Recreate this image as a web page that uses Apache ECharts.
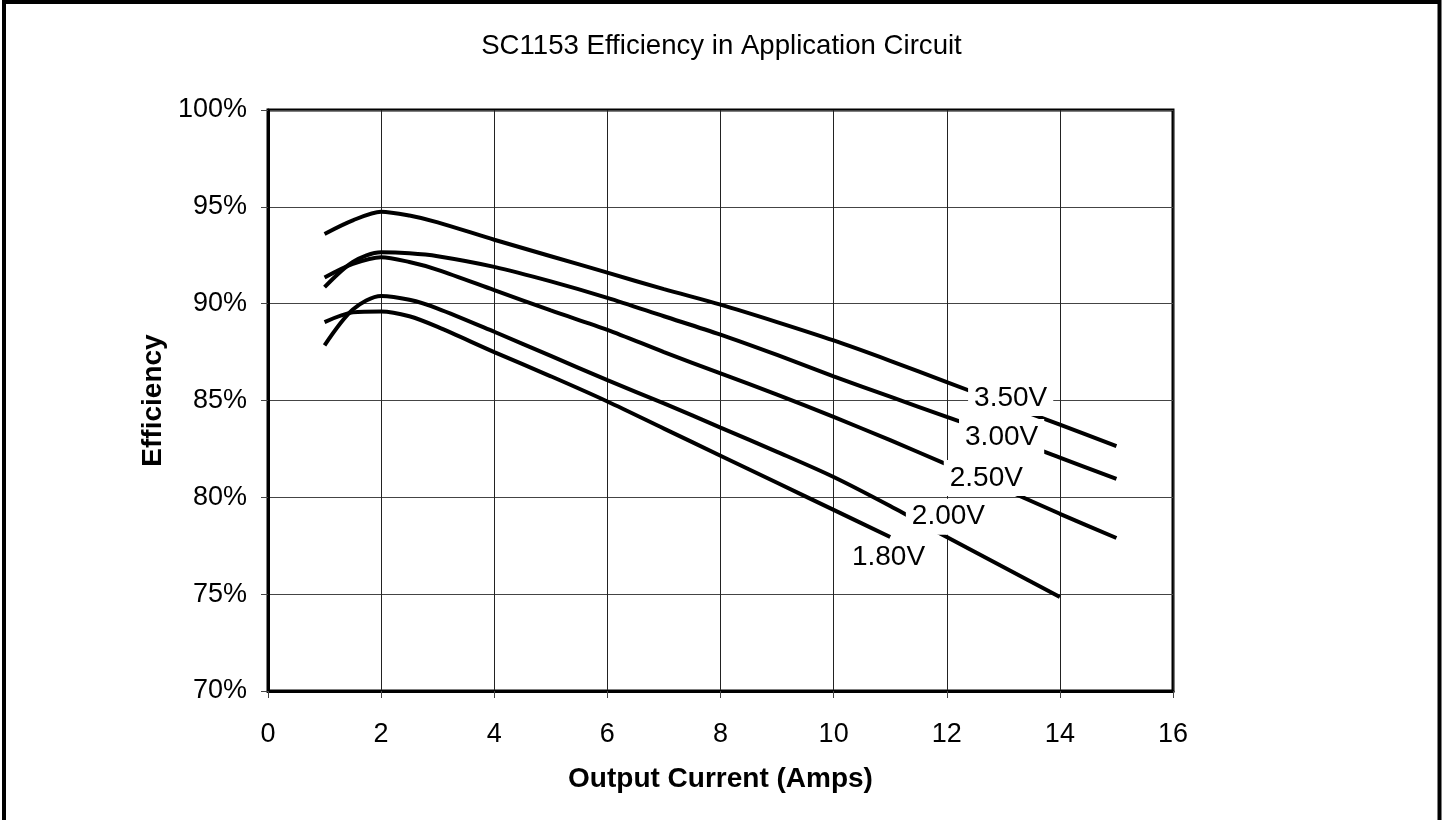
<!DOCTYPE html>
<html>
<head>
<meta charset="utf-8">
<script src="https://cdn.jsdelivr.net/npm/echarts@6/dist/echarts.min.js"></script>
<style>
  html, body { margin: 0; padding: 0; background: #fff; }
  #chart { width: 1443px; height: 820px; }
</style>
</head>
<body>
<div id="chart"></div>
<script>
// Output current (A)
const currents = [1, 1.5, 2, 2.5, 3, 4, 5, 6, 7, 8, 9, 10, 11, 12, 13, 14, 15];
// Efficiency (%) per output voltage
const eff350 = [93.6, 94.3, 94.75, 94.55, 94.2, 93.3, 92.45, 91.6, 90.75, 89.95, 89.05, 88.1, 87.05, 85.95, 84.85, 83.75, 82.65];
const eff300 = [90.85, 92.15, 92.65, 92.6, 92.45, 91.9, 91.15, 90.3, 89.35, 88.4, 87.35, 86.25, 85.2, 84.15, 83.15, 82.05, 80.95];
const eff250 = [91.35, 92.05, 92.4, 92.15, 91.75, 90.7, 89.65, 88.65, 87.5, 86.4, 85.3, 84.15, 82.95, 81.7, 80.45, 79.15, 77.9];
const eff200 = [87.85, 89.7, 90.4, 90.2, 89.75, 88.55, 87.3, 86.05, 84.85, 83.6, 82.35, 81.05, 79.55, 77.95, 76.4, 74.85];
const eff180 = [89.05, 89.55, 89.6, 89.35, 88.8, 87.5, 86.25, 84.95, 83.55, 82.15, 80.75, 79.35, 77.95];
const seriesNames = ['3.50V', '3.00V', '2.50V', '2.00V', '1.80V'];
// In-chart label anchors
const labelX = [13.13, 12.97, 12.7, 12.03, 10.97];
const labelY = [85.13, 83.12, 81.0, 79.0, 76.9];
// Axis ticks
const xTicks = { min: 0, max: 16, interval: 2 };
const yTicks = { min: 70, max: 100, interval: 5 };

const FONT = '"Liberation Sans", Arial, sans-serif';
const allEff = [eff350, eff300, eff250, eff200, eff180];

const lineSeries = allEff.map((arr, i) => ({
  name: seriesNames[i],
  type: 'line',
  smooth: 0.3,
  symbol: 'none',
  lineStyle: { color: '#000', width: 4 },
  data: arr.map((v, j) => [currents[j], v]),
  z: 3
}));

const labelSeries = {
  type: 'scatter',
  symbolSize: 1,
  itemStyle: { color: '#fff', opacity: 1 },
  silent: true,
  z: 10,
  label: {
    show: true,
    position: 'inside',
    formatter: '{b}',
    fontFamily: FONT,
    fontSize: 28,
    color: '#000',
    opacity: 1,
    backgroundColor: '#fff',
    padding: [4, 6]
  },
  data: seriesNames.map((n, i) => ({ name: n, value: [labelX[i], labelY[i]] }))
};

const chart = echarts.init(document.getElementById('chart'));
chart.setOption({
  animation: false,
  backgroundColor: '#fff',
  title: {
    text: 'SC1153 Efficiency in Application Circuit',
    left: 'center',
    top: 27,
    textStyle: { fontFamily: FONT, fontSize: 27.6, fontWeight: 'normal', color: '#000' }
  },
  graphic: [{
    type: 'rect',
    shape: { x: 4, y: 2, width: 1435.5, height: 900 },
    style: { fill: 'none', stroke: '#000', lineWidth: 4 },
    silent: true
  }],
  grid: {
    left: 268, right: 270, top: 110, bottom: 129,
    show: true, borderColor: '#000', borderWidth: 3, backgroundColor: 'transparent'
  },
  xAxis: {
    type: 'value',
    min: xTicks.min, max: xTicks.max, interval: xTicks.interval,
    name: 'Output Current (Amps)',
    nameLocation: 'middle',
    nameGap: 74,
    nameTextStyle: { fontFamily: FONT, fontSize: 28, fontWeight: 'bold', color: '#000' },
    axisLine: { show: true, onZero: false, lineStyle: { color: '#000', width: 3 } },
    axisTick: { show: true, inside: false, length: 7, lineStyle: { color: '#444', width: 1 } },
    axisLabel: { margin: 30, fontFamily: FONT, fontSize: 27, color: '#000' },
    splitLine: { show: true, lineStyle: { color: '#222', width: 1 } }
  },
  yAxis: {
    type: 'value',
    min: yTicks.min, max: yTicks.max, interval: yTicks.interval,
    name: 'Efficiency',
    nameLocation: 'middle',
    nameGap: 82,
    nameTextStyle: { fontFamily: FONT, fontSize: 28, fontWeight: 'bold', color: '#000' },
    axisLine: { show: true, lineStyle: { color: '#000', width: 3 } },
    axisTick: { show: true, inside: false, length: 7, lineStyle: { color: '#444', width: 1 } },
    axisLabel: { margin: 21, fontFamily: FONT, fontSize: 27, color: '#000', formatter: '{value}%' },
    splitLine: { show: true, lineStyle: { color: '#444', width: 1 } }
  },
  series: [...lineSeries, labelSeries]
});
</script>
</body>
</html>
